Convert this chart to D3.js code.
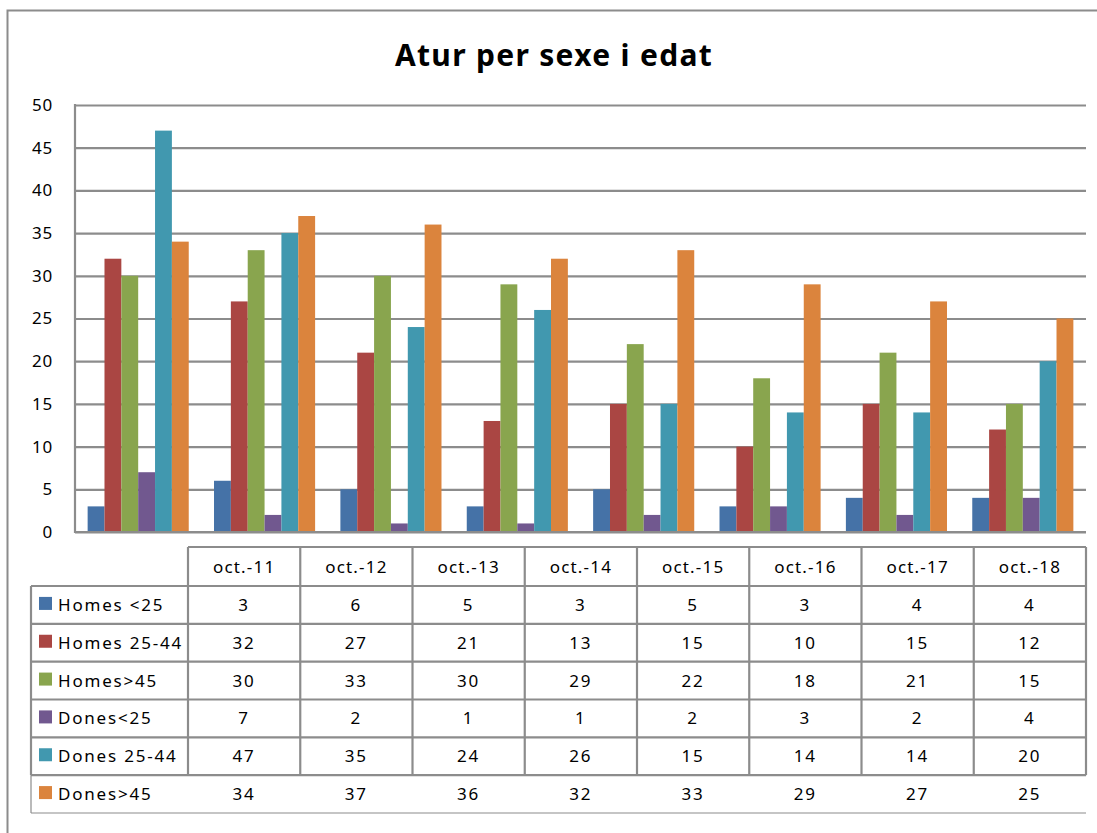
<!DOCTYPE html>
<html>
<head>
<meta charset="utf-8">
<script src="https://cdn.jsdelivr.net/npm/d3@7"></script>
<style>
  body { margin: 0; background: #fff; }
  text { font-family: "Noto Sans", "Open Sans", sans-serif; fill: #000; }
</style>
</head>
<body>
<svg id="chart"></svg>
<script>
const categories = ['oct.-11', 'oct.-12', 'oct.-13', 'oct.-14', 'oct.-15', 'oct.-16', 'oct.-17', 'oct.-18'];
const seriesNames = ['Homes <25', 'Homes 25-44', 'Homes>45', 'Dones<25', 'Dones 25-44', 'Dones>45'];
const homesMenys25 = [3, 6, 5, 3, 5, 3, 4, 4];
const homes2544 = [32, 27, 21, 13, 15, 10, 15, 12];
const homesMes45 = [30, 33, 30, 29, 22, 18, 21, 15];
const donesMenys25 = [7, 2, 1, 1, 2, 3, 2, 4];
const dones2544 = [47, 35, 24, 26, 15, 14, 14, 20];
const donesMes45 = [34, 37, 36, 32, 33, 29, 27, 25];
const yTicks = [0, 5, 10, 15, 20, 25, 30, 35, 40, 45, 50];

const seriesValues = [homesMenys25, homes2544, homesMes45, donesMenys25, dones2544, donesMes45];
const colors = ['#4572A7', '#AA4643', '#89A54E', '#71588F', '#4198AF', '#DB843D'];
const gridColor = '#8c8c8c';

const width = 1097, height = 833;
const plot = { left: 75, right: 1086, top: 105, bottom: 532 };

const svg = d3.select('#chart').attr('width', width).attr('height', height);

// outer chart border (runs off the right/bottom edge in the original)
svg.append('rect')
  .attr('x', 7.5).attr('y', 10.5)
  .attr('width', 1100).attr('height', 830)
  .attr('fill', 'none').attr('stroke', gridColor).attr('stroke-width', 2);

svg.append('text')
  .attr('x', 554).attr('y', 66)
  .attr('text-anchor', 'middle')
  .attr('font-size', 30).attr('font-weight', 'bold')
  .attr('letter-spacing', 1.3)
  .text('Atur per sexe i edat');

const x = d3.scaleBand().domain(categories).range([plot.left, plot.right]).paddingInner(0.2).paddingOuter(0.1);
const xInner = d3.scaleBand().domain(d3.range(seriesNames.length)).range([0, x.bandwidth()]);
const y = d3.scaleLinear().domain([0, 50]).range([plot.bottom, plot.top]);

// gridlines + labels
const yAxis = svg.append('g')
  .attr('transform', `translate(${plot.left},0)`)
  .call(d3.axisLeft(y).tickValues(yTicks).tickSize(-(plot.right - plot.left)).tickPadding(22));
yAxis.select('.domain').remove();
yAxis.selectAll('.tick line').attr('stroke', gridColor).attr('stroke-width', 2.2);
yAxis.selectAll('.tick text')
  .attr('font-size', 17)
  .attr('font-family', '"Noto Sans", sans-serif')
  .attr('fill', '#000')
  .attr('letter-spacing', 0.8);

svg.append('line')
  .attr('x1', plot.left).attr('x2', plot.left)
  .attr('y1', plot.top - 1).attr('y2', plot.bottom + 1)
  .attr('stroke', gridColor).attr('stroke-width', 2.2);

// bars
seriesValues.forEach((vals, si) => {
  svg.append('g').selectAll('rect')
    .data(vals)
    .join('rect')
    .attr('x', (d, i) => x(categories[i]) + xInner(si))
    .attr('y', d => y(d))
    .attr('width', xInner.bandwidth())
    .attr('height', d => y(0) - y(d))
    .attr('fill', colors[si]);
});

// redraw baseline on top of bars
svg.append('line')
  .attr('x1', plot.left).attr('x2', plot.right)
  .attr('y1', y(0)).attr('y2', y(0))
  .attr('stroke', gridColor).attr('stroke-width', 2.2);

// data table
const table = { left: 31, colStart: 188, right: 1086, headTop: 547, headBottom: 586, bottom: 813 };
const tx = d3.scaleBand().domain(categories).range([table.colStart, table.right]);
const ty = d3.scaleBand().domain(seriesNames).range([table.headBottom, table.bottom]);
const lastRow = seriesNames[seriesNames.length - 1];
const lastTop = ty(lastRow);

const tg = svg.append('g');
const line = (x1, y1, x2, y2, w) => tg.append('line')
  .attr('x1', x1).attr('y1', y1).attr('x2', x2).attr('y2', y2)
  .attr('stroke', gridColor).attr('stroke-width', w);

// header box
line(table.colStart, table.headTop, table.right, table.headTop, 2.2);
// horizontal row lines
seriesNames.forEach(s => line(table.left, ty(s), table.right, ty(s), 2.2));
// vertical lines (not through last row)
line(table.left, table.headBottom, table.left, lastTop, 2.2);
categories.forEach(c => line(tx(c), table.headTop, tx(c), lastTop, 2.2));
line(table.right, table.headTop, table.right, lastTop, 2.2);
// thin edges of last row
line(table.left, lastTop, table.left, table.bottom, 1.2);
line(table.left, table.bottom, table.right, table.bottom, 1.2);

// header labels
tg.selectAll('text.head')
  .data(categories)
  .join('text')
  .attr('class', 'head')
  .attr('x', d => tx(d) + tx.bandwidth() / 2)
  .attr('y', (table.headTop + table.headBottom) / 2 + 6)
  .attr('text-anchor', 'middle')
  .attr('font-size', 17)
  .attr('letter-spacing', 1.2)
  .text(d => d);

// row legend + values
seriesNames.forEach((s, si) => {
  const cy = ty(s) + ty.bandwidth() / 2;
  tg.append('rect')
    .attr('x', 39).attr('y', cy - 8)
    .attr('width', 13).attr('height', 13)
    .attr('fill', colors[si]);
  tg.append('text')
    .attr('x', 58).attr('y', cy + 6)
    .attr('font-size', 17)
    .attr('letter-spacing', 1.8)
    .text(s);
  tg.append('g').selectAll('text')
    .data(seriesValues[si])
    .join('text')
    .attr('x', (d, i) => tx(categories[i]) + tx.bandwidth() / 2)
    .attr('y', cy + 6)
    .attr('text-anchor', 'middle')
    .attr('font-size', 17)
    .attr('letter-spacing', 1.8)
    .text(d => d);
});
</script>
</body>
</html>
